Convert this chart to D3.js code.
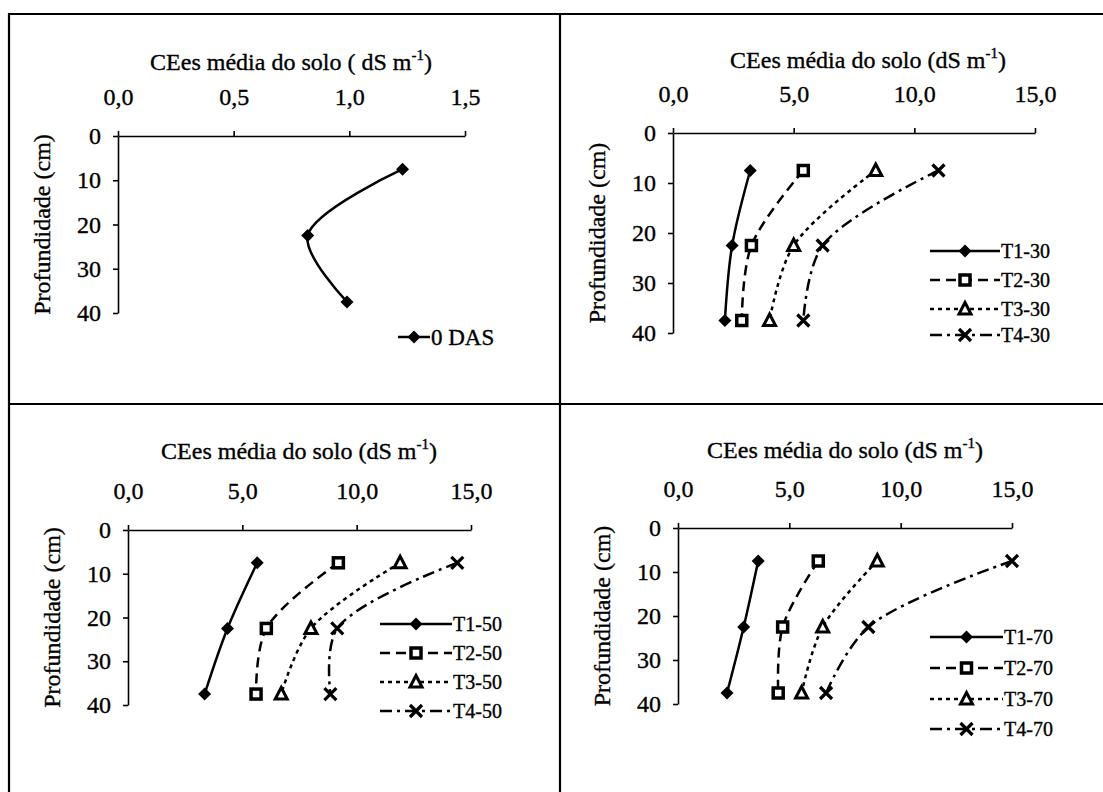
<!DOCTYPE html>
<html>
<head>
<meta charset="utf-8">
<script src="https://cdn.jsdelivr.net/npm/d3@7"></script>
<style>
  body { margin: 0; background: #fff; }
</style>
</head>
<body>
<svg id="chart" width="1103" height="792"></svg>
<script>
// Sampling depths (cm) and axis ticks
const depths = [7.5, 22.5, 37.5];
const depthTicks = [0, 10, 20, 30, 40];
const ecTicksInitial = [0, 0.5, 1.0, 1.5];
const ecTicks = [0, 5, 10, 15];

// Mean soil ECse (dS m-1) at each depth
const das0 = [1.23, 0.82, 0.99];

const t1_30 = [3.2, 2.45, 2.15];
const t2_30 = [5.4, 3.25, 2.85];
const t3_30 = [8.4, 5.0, 4.0];
const t4_30 = [11.0, 6.2, 5.4];

const t1_50 = [5.65, 4.35, 3.35];
const t2_50 = [9.2, 6.05, 5.6];
const t3_50 = [11.9, 8.0, 6.7];
const t4_50 = [14.4, 9.15, 8.85];

const t1_70 = [3.6, 2.95, 2.2];
const t2_70 = [6.3, 4.7, 4.5];
const t3_70 = [8.95, 6.5, 5.55];
const t4_70 = [15.0, 8.55, 6.65];

const names0 = ["0 DAS"];
const names30 = ["T1-30", "T2-30", "T3-30", "T4-30"];
const names50 = ["T1-50", "T2-50", "T3-50", "T4-50"];
const names70 = ["T1-70", "T2-70", "T3-70", "T4-70"];

const FONT = "Liberation Serif";
const svg = d3.select("#chart");
const fmt = v => d3.format(".1f")(v).replace(".", ",");

// Text helper: serif face with a hairline outline for a darker print
function styleText(sel, size) {
  return sel.style("font-family", FONT).style("font-size", size + "px")
    .attr("fill", "#000").attr("stroke", "#000").attr("stroke-width", 0.35);
}

// Line and marker style of each treatment
const styles = [
  { dash: null,        marker: "diamond" },
  { dash: "10,6",      marker: "square" },
  { dash: "4,4",       marker: "triangle" },
  { dash: "12,5,3,5",  marker: "cross" }
];

function drawMarker(g, type, cx, cy) {
  if (type === "diamond") {
    g.append("path").attr("d", `M${cx},${cy - 6.5}L${cx + 6.5},${cy}L${cx},${cy + 6.5}L${cx - 6.5},${cy}Z`)
      .attr("fill", "#000");
  } else if (type === "square") {
    g.append("rect").attr("x", cx - 5).attr("y", cy - 5).attr("width", 10).attr("height", 10)
      .attr("fill", "#fff").attr("stroke", "#000").attr("stroke-width", 3.5);
  } else if (type === "triangle") {
    g.append("path").attr("d", `M${cx},${cy - 6.5}L${cx + 6},${cy + 5}L${cx - 6},${cy + 5}Z`)
      .attr("fill", "#fff").attr("stroke", "#000").attr("stroke-width", 3);
  } else {
    g.append("path").attr("d", `M${cx - 6},${cy - 6}L${cx + 6},${cy + 6}M${cx + 6},${cy - 6}L${cx - 6},${cy + 6}`)
      .attr("stroke", "#000").attr("stroke-width", 3.2);
  }
}

// Outer frame and panel dividers
const frame = svg.append("g").attr("stroke", "#000").attr("stroke-width", 2.2);
frame.append("line").attr("x1", 9).attr("x2", 1103).attr("y1", 14).attr("y2", 14);
frame.append("line").attr("x1", 9).attr("x2", 9).attr("y1", 13).attr("y2", 792);
frame.append("line").attr("x1", 560).attr("x2", 560).attr("y1", 13).attr("y2", 792);
frame.append("line").attr("x1", 9).attr("x2", 1103).attr("y1", 404).attr("y2", 404);

const panels = [
  { series: [das0], names: names0, xTicks: ecTicksInitial, xMax: 1.5,
    x0: 118, x1: 465, y0: 136, y1: 313, titleX: 291, titleY: 70, spaced: true,
    legend: { x0: 398, x1: 430, y: [337], fs: 23 } },
  { series: [t1_30, t2_30, t3_30, t4_30], names: names30, xTicks: ecTicks, xMax: 15,
    x0: 673, x1: 1035, y0: 133, y1: 333, titleX: 868, titleY: 68, spaced: false,
    legend: { x0: 930, x1: 1000, y: [251, 280, 309, 335], fs: 20 } },
  { series: [t1_50, t2_50, t3_50, t4_50], names: names50, xTicks: ecTicks, xMax: 15,
    x0: 128, x1: 471, y0: 530, y1: 705, titleX: 299, titleY: 459, spaced: false,
    legend: { x0: 380, x1: 452, y: [624, 653, 682, 711], fs: 20 } },
  { series: [t1_70, t2_70, t3_70, t4_70], names: names70, xTicks: ecTicks, xMax: 15,
    x0: 678, x1: 1012, y0: 528, y1: 704, titleX: 845, titleY: 458, spaced: false,
    legend: { x0: 930, x1: 1003, y: [637, 668, 699, 729], fs: 20 } }
];

panels.forEach(p => {
  const g = svg.append("g");
  const x = d3.scaleLinear().domain([0, p.xMax]).range([p.x0, p.x1]);
  const y = d3.scaleLinear().domain([0, 40]).range([p.y0, p.y1]);

  // Title
  const t = styleText(g.append("text"), 24).attr("x", p.titleX).attr("y", p.titleY)
    .attr("text-anchor", "middle");
  t.append("tspan").text(p.spaced ? "CEes média do solo ( dS m" : "CEes média do solo (dS m");
  t.append("tspan").style("font-size", "15px").attr("dy", -10).text("-1");
  t.append("tspan").attr("dy", 10).text(")");

  // Axes
  const xa = g.append("g").attr("transform", `translate(0,${p.y0})`)
    .call(d3.axisTop(x).tickValues(p.xTicks).tickFormat(fmt).tickSize(5).tickSizeOuter(0).tickPadding(26));
  const ya = g.append("g").attr("transform", `translate(${p.x0},0)`)
    .call(d3.axisLeft(y).tickValues(depthTicks).tickSize(5).tickSizeOuter(0).tickPadding(12));
  [xa, ya].forEach(a => {
    a.selectAll("path, line").attr("stroke", "#000").attr("stroke-width", 1.6);
    styleText(a.selectAll("text"), 24);
  });

  // Y axis title
  styleText(g.append("text"), 24)
    .attr("transform", `translate(${p.x0 - 68},${(p.y0 + p.y1) / 2}) rotate(-90)`)
    .attr("text-anchor", "middle").text("Profundidade (cm)");

  // Profiles
  const line = d3.line().x(d => x(d.v)).y(d => y(d.d)).curve(d3.curveCatmullRom.alpha(0.5));
  p.series.forEach((vals, i) => {
    const st = styles[i];
    const pts = vals.map((v, k) => ({ v, d: depths[k] }));
    g.append("path").datum(pts).attr("d", line)
      .attr("fill", "none").attr("stroke", "#000").attr("stroke-width", 2.5)
      .attr("stroke-dasharray", st.dash);
    pts.forEach(pt => drawMarker(g, st.marker, x(pt.v), y(pt.d)));

    // Legend entry
    const L = p.legend, ly = L.y[i];
    g.append("line").attr("x1", L.x0).attr("x2", L.x1).attr("y1", ly).attr("y2", ly)
      .attr("stroke", "#000").attr("stroke-width", 2.5).attr("stroke-dasharray", st.dash);
    drawMarker(g, st.marker, (L.x0 + L.x1) / 2, ly);
    styleText(g.append("text"), L.fs).attr("x", L.x1 + 1).attr("y", ly).attr("dy", "0.35em")
      .text(p.names[i]);
  });
});
</script>
</body>
</html>
